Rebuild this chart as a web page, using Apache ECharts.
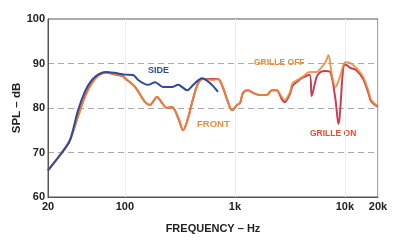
<!DOCTYPE html>
<html><head><meta charset="utf-8">
<script src="https://cdn.jsdelivr.net/npm/echarts@6/dist/echarts.min.js"></script>
<style>html,body{margin:0;padding:0;background:#fff}#c{width:394px;height:242px}</style>
</head><body><div id="c"></div>
<script>
// Frequencies (Hz) and levels (dB)
const sideFreq = [20,26.8,31.7,37.5,43.5,50.2,57,66,80,100,119,132,162,188,222,268,305,368,418,503,594,703];
const sideDb   = [66,70,72.8,79.5,83.8,86.3,87.5,88.1,87.9,87.5,87.4,86.3,85.2,85.8,84.7,84.7,85.2,84,85.2,86.7,85.6,83.6];

const offFreq = [20,26.8,31.7,37.5,43.5,50.2,58,68,80,95,101,124,153,169,196,218,241,268,305,339,376,418,464,513,621,703,780,866,942,1048,1114,1185,1316,1461,1687,1949,2164,2402,2666,2838,3149,3352,3721,4129,4785,5538,6149,6669,7098,7560,8202,8728,9680,10104,11212,12705,14668,16284,17325,19225,20000];
const offDb   = [66,70,72.8,78,82.5,85.5,87.3,88,87.6,87.3,86.7,84.7,81.3,80.7,82.5,81.1,80,80.2,77.8,75,77.8,82.2,85.6,86.5,86.3,86.5,84.7,81.3,79.5,80.7,81.1,83.4,84,83.4,82.9,82.9,84,84,82.5,81.8,83.4,85.6,86.3,87,88.1,88.1,89.2,90.3,91.9,87.9,84.7,86,89.5,90.3,90.1,89,87,84,81.8,80.7,80.5];

const onFreq = [20,26.8,31.7,37.5,43.5,50.2,58,68,80,95,101,124,153,169,196,218,241,268,305,339,376,418,464,513,621,703,780,866,942,1048,1114,1185,1316,1461,1687,1949,2164,2402,2666,2838,3149,3352,3721,4129,4785,4991,5538,6026,6669,7408,8202,8728,9680,10104,11212,12705,14668,16284,17325,19225,20000];
const onDb   = [66,70,72.8,78.3,82.8,85.8,87.5,88,87.6,87.2,86.6,84.7,81.3,80.7,82.5,81.1,80,80.2,77.8,75,77.8,82.2,85.6,86.5,86.5,86.5,84.5,81.3,79.5,80.7,81.1,83.4,84,83.4,82.9,82.9,84,84,82,81.3,83,85,86,86.8,87.5,82.7,87,88.1,88.3,88,82,76.4,89.2,89.8,89,88.5,86.5,83.5,81.5,80.5,80.3];

const xTickLabels = {20:'20',100:'100',1000:'1k',10000:'10k',20000:'20k'};
const yMin = 60, yMax = 100, yStep = 10;

const pair = (f, d) => f.map((v, i) => [v, d[i]]);
const font = '"Liberation Sans", Arial, sans-serif';

const chart = echarts.init(document.getElementById('c'), null, {renderer: 'canvas'});
chart.setOption({
  animation: false,
  backgroundColor: '#fff',
  grid: {left: 48, right: 16, top: 19, bottom: 45, containLabel: false, outerBoundsMode: 'none',
         show: true, borderColor: '#555', borderWidth: 1, backgroundColor: 'transparent'},
  xAxis: {
    type: 'log', logBase: 10, min: 20, max: 20000,
    name: 'FREQUENCY – Hz', nameLocation: 'middle', nameGap: 26, nameMoveOverlap: false,
    nameTextStyle: {fontFamily: font, fontWeight: 'bold', fontSize: 11, color: '#222'},
    axisLine: {show: true, lineStyle: {color: '#555'}},
    axisTick: {show: false},
    splitLine: {show: true, lineStyle: {color: '#eeeeee', width: 1}},
    axisLabel: {
      fontFamily: font, fontWeight: 'bold', fontSize: 11, color: '#222', margin: 4,
      showMinLabel: true, showMaxLabel: true,
      formatter: v => xTickLabels[Math.round(v)] || ''
    }
  },
  yAxis: {
    type: 'value', min: yMin, max: yMax, interval: yStep,
    name: 'SPL – dB', nameLocation: 'middle', nameGap: 25, nameMoveOverlap: false,
    nameTextStyle: {fontFamily: font, fontWeight: 'bold', fontSize: 11.5, color: '#222'},
    axisLine: {show: true, lineStyle: {color: '#555'}},
    axisTick: {show: false},
    splitLine: {show: true, lineStyle: {color: '#aaa', type: [6, 4], width: 1}},
    axisLabel: {fontFamily: font, fontWeight: 'bold', fontSize: 11, color: '#222', margin: 3}
  },
  series: [
    {name: 'Grille on', type: 'line', data: pair(onFreq, onDb), showSymbol: false, smooth: 0.3,
     lineStyle: {color: '#cc3d55', width: 2}, z: 2},
    {name: 'Grille off', type: 'line', data: pair(offFreq, offDb), showSymbol: false, smooth: 0.3,
     lineStyle: {color: '#ec8a36', width: 2, opacity: 0.85}, z: 3},
    {name: 'Side', type: 'line', data: pair(sideFreq, sideDb), showSymbol: false, smooth: 0.3,
     lineStyle: {color: '#2c4b9c', width: 2}, z: 4}
  ],
  graphic: [
    {type: 'text', left: 148, top: 66, style: {text: 'SIDE', fill: '#2c4b9c', font: 'bold 9px ' + font}},
    {type: 'text', left: 197, top: 119, style: {text: 'FRONT', fill: '#ec8a36', font: 'bold 9.5px ' + font}},
    {type: 'text', left: 254, top: 58, style: {text: 'GRILLE OFF', fill: '#ec8a36', font: 'bold 8.5px ' + font}},
    {type: 'text', left: 310, top: 129, style: {text: 'GRILLE ON', fill: '#e0502c', font: 'bold 8.5px ' + font}}
  ]
});
</script></body></html>
